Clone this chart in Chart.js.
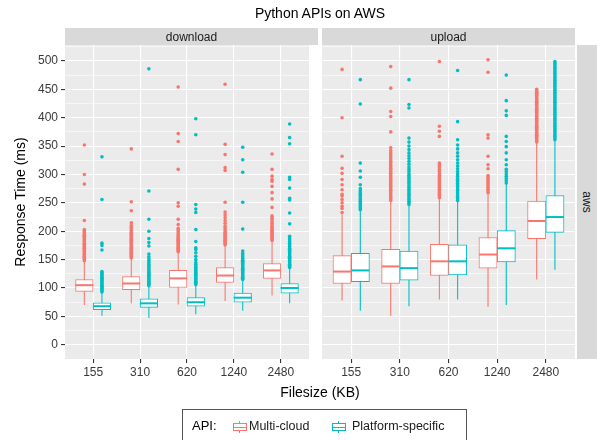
<!DOCTYPE html>
<html><head><meta charset="utf-8">
<script src="https://cdn.jsdelivr.net/npm/chart.js@4.4.0/dist/chart.umd.min.js"></script>
<style>
html,body{margin:0;padding:0;background:#fff;}
body{width:597px;height:440px;position:relative;overflow:hidden;font-family:"Liberation Sans",Arial,Helvetica,sans-serif;}
canvas{position:absolute;}
.abs{position:absolute;}
.strip{position:absolute;background:#D9D9D9;color:#1A1A1A;font-size:12px;display:flex;align-items:center;justify-content:center;}
.key{position:absolute;width:14px;height:12px;}
.key .w{position:absolute;left:6px;top:0;width:1px;height:12px;}
.key .b{position:absolute;left:0;top:2px;width:14px;height:8px;box-sizing:border-box;background:#fff;border:1px solid;}
.key .m{position:absolute;left:0;top:5.5px;width:14px;height:1px;}
</style></head><body>
<canvas id="c1" width="320" height="390" style="left:0;top:0"></canvas>
<canvas id="c2" width="307" height="390" style="left:290px;top:0"></canvas>
<div class="abs" style="left:170px;top:5px;width:300px;text-align:center;font-size:14px;color:#000;">Python APIs on AWS</div>
<div class="strip" style="left:65px;top:28px;width:253px;height:17px;">download</div>
<div class="strip" style="left:322px;top:28px;width:253px;height:17px;">upload</div>
<div class="strip" style="left:577px;top:45px;width:20px;height:314px;"><span style="display:inline-block;transform:rotate(90deg);">aws</span></div>
<div class="abs" style="left:220px;top:384px;width:200px;text-align:center;font-size:14px;color:#000;">Filesize (KB)</div>
<div class="abs" style="left:182px;top:409px;width:285px;height:40px;border:1px solid #555;box-sizing:border-box;background:#fff;">
  <div class="abs" style="left:9px;top:8px;font-size:13px;color:#000;">API:</div>
  <div class="key" style="left:50px;top:11px;"><div class="w" style="background:#F8766D"></div><div class="b" style="border-color:#F8766D"></div><div class="m" style="background:#F8766D"></div></div>
  <div class="abs" style="left:66px;top:9px;font-size:12.5px;color:#1A1A1A;">Multi-cloud</div>
  <div class="key" style="left:149px;top:11px;"><div class="w" style="background:#00BFC4"></div><div class="b" style="border-color:#00BFC4"></div><div class="m" style="background:#00BFC4"></div></div>
  <div class="abs" style="left:169px;top:9px;font-size:12.5px;color:#1A1A1A;">Platform-specific</div>
</div>
<script>
const FONT = '"Liberation Sans", Arial, Helvetica, sans-serif';
const categories = ['155', '310', '620', '1240', '2480'];
const seriesNames = ['Multi-cloud', 'Platform-specific'];
const seriesColors = ['#F8766D', '#00BFC4'];
const yTickLabels = [0, 50, 100, 150, 200, 250, 300, 350, 400, 450, 500];
const yMinorGrid = [25, 75, 125, 175, 225, 275, 325, 375, 425, 475, 525];

// each row: [lower whisker, Q1, median, Q3, upper whisker]
const downloadMultiCloud = [
  [70, 94, 105, 115, 147],
  [73, 97, 108, 120, 152],
  [71, 101, 117, 131, 163],
  [77, 110, 122, 136, 175],
  [87, 117, 131, 143, 183]
];
const downloadPlatform = [
  [51, 62, 68, 74, 92],
  [47, 66, 73, 81, 103],
  [54, 68, 75, 83, 104],
  [60, 75, 83, 91, 114],
  [73, 91, 100, 108, 134]
];
const uploadMultiCloud = [
  [78, 108, 129, 157, 230],
  [51, 108, 138, 168, 253],
  [80, 122, 147, 177, 258],
  [67, 135, 159, 189, 268],
  [115, 187, 218, 253, 356]
];
const uploadPlatform = [
  [60, 111, 131, 161, 236],
  [68, 114, 135, 165, 245],
  [80, 123, 147, 176, 253],
  [70, 146, 170, 201, 284],
  [132, 198, 225, 263, 360]
];

const downloadMultiCloudOutliers = [
  [148,150,152,154,155,157,159,160,162,164,166,168,170,171,173,175,177,179,181,183,185,187,189,191,193,195,197,199,201,203,219,283,300,352],
  [153,155,157,159,161,163,164,166,168,170,172,174,176,178,180,182,184,186,188,190,192,194,196,198,201,204,207,210,215,236,252,345],
  [164,166,168,170,172,174,176,178,180,182,184,186,188,190,193,196,199,202,205,212,221,244,250,309,358,372,454],
  [176,178,180,182,184,186,188,190,192,194,196,198,201,205,209,214,219,224,229,234,251,307,312,335,353,459],
  [184,186,188,190,192,194,196,198,200,202,204,206,208,211,214,217,221,224,227,242,257,268,279,288,291,297,309,336]
];
const downloadPlatformOutliers = [
  [93,95,97,99,101,103,105,107,109,111,113,115,117,119,121,123,125,127,129,167,175,179,256,331],
  [104,106,108,110,112,114,116,118,120,122,124,126,128,130,133,136,139,142,145,148,151,155,160,174,180,187,200,221,271,486],
  [106,108,110,112,114,116,118,120,122,124,126,128,130,132,134,136,139,142,145,150,156,162,168,171,182,203,233,239,247,370,398],
  [115,117,119,121,123,125,127,129,131,133,135,137,139,141,143,145,147,149,152,155,158,161,165,204,251,304,326,348],
  [136,138,140,142,144,146,148,150,152,154,156,158,160,162,164,166,168,170,173,176,179,182,185,188,191,213,232,255,258,276,291,295,354,365,389]
];
const uploadMultiCloudOutliers = [
  [233,240,244,250,256,262,265,273,282,291,302,311,332,400,485],
  [254,257,260,263,266,269,272,275,278,281,284,287,290,293,296,299,302,305,308,311,314,317,320,323,326,330,334,338,342,347,375,402,411,452,490],
  [259,262,265,268,271,274,277,280,283,286,289,292,295,298,301,305,309,313,317,320,367,376,385,499],
  [268,271,274,277,280,283,286,289,292,295,298,310,317,332,364,370,480,502],
  [357,359,361,363,365,367,369,371,373,375,377,379,381,383,385,387,389,391,393,395,397,399,401,403,405,407,409,411,413,415,417,419,421,423,425,427,429,431,433,435,437,439,441,443,445,447,450]
];
const uploadPlatformOutliers = [
  [238,241,244,247,250,253,256,259,262,265,268,271,275,282,295,306,320,424,467],
  [247,250,253,256,259,262,265,268,271,274,277,280,283,286,289,292,295,298,301,305,309,313,318,323,328,333,338,344,350,357,364,417,423,467],
  [254,257,260,263,266,269,272,275,278,281,284,287,290,293,297,301,305,310,315,320,326,332,338,345,352,361,393,483],
  [285,289,293,297,301,305,309,317,326,338,349,358,367,404,412,430,475],
  [361,364,367,370,373,376,379,382,385,388,391,394,397,400,403,406,409,412,415,418,421,424,427,430,433,436,439,442,445,448,451,454,457,460,463,466,469,472,475,478,481,484,487,490,493,496,499]
];

const DODGE = 0.1875;
function boxDatasets(stats, outliers, s) {
  const off = s === 0 ? -DODGE : DODGE;
  const color = seriesColors[s];
  const xs = categories.map((c, i) => i + off);
  return [
    { type: 'bar', label: seriesNames[s] + ' whiskers', data: stats.map((r, i) => ({ x: xs[i], y: [r[0], r[4]] })),
      backgroundColor: color, borderWidth: 0, grouped: false, barPercentage: 0.06, categoryPercentage: 1, order: 4 },
    { type: 'bar', label: seriesNames[s], data: stats.map((r, i) => ({ x: xs[i], y: [r[1], r[3]] })),
      backgroundColor: '#FFFFFF', borderColor: color, borderWidth: 1, borderSkipped: false, grouped: false,
      barPercentage: 1, categoryPercentage: 1, order: 3 },
    { type: 'line', label: seriesNames[s] + ' median', data: stats.map((r, i) => ({ x: xs[i], y: r[2] })),
      showLine: false, pointStyle: 'line', pointRadius: 9, pointBorderWidth: 2, pointBorderColor: color, borderColor: color, order: 2 },
    { type: 'line', label: seriesNames[s] + ' outliers', data: outliers.flatMap((arr, i) => arr.map(v => ({ x: xs[i], y: v }))),
      showLine: false, pointStyle: 'circle', pointRadius: 1.8, pointBackgroundColor: color, pointBorderWidth: 0, borderColor: color, order: 1 }
  ];
}

const panelBg = {
  id: 'panelBg',
  beforeDraw(chart) {
    const { ctx, chartArea: a } = chart;
    ctx.save();
    ctx.fillStyle = '#EBEBEB';
    ctx.fillRect(a.left, a.top, a.right - a.left, a.bottom - a.top);
    ctx.restore();
  }
};

const isMajor = c => c.tick && yTickLabels.includes(c.tick.value);

function makeOptions(first) {
  return {
    responsive: false, animation: false, devicePixelRatio: 1, events: [],
    layout: { padding: first ? { left: 0, right: 2, top: 45, bottom: 11 } : { left: 32, right: 22, top: 45, bottom: 11 } },
    plugins: { legend: { display: false }, tooltip: { enabled: false } },
    scales: {
      x: {
        type: 'linear', min: -0.6, max: 4.6, offset: false,
        afterBuildTicks: sc => { sc.ticks = categories.map((c, i) => ({ value: i })); },
        afterFit: sc => { sc.height = 20; },
        ticks: { callback: v => categories[v] ?? '', color: '#3A3A3A', font: { size: 12, family: FONT }, padding: 2, maxRotation: 0, autoSkip: false },
        grid: { color: '#FFFFFF', lineWidth: 1.1, tickLength: 4, tickColor: '#333333', offset: false },
        border: { display: false }
      },
      y: {
        type: 'linear', min: -25, max: 528,
        afterBuildTicks: sc => { sc.ticks = yTickLabels.concat(yMinorGrid).sort((a, b) => a - b).map(v => ({ value: v })); },
        afterFit: sc => { sc.width = first ? 65 : 0; },
        ticks: { display: first, callback: v => yTickLabels.includes(v) ? String(v) : '', color: '#3A3A3A', font: { size: 12, family: FONT }, padding: 3, autoSkip: false },
        grid: { color: '#FFFFFF', lineWidth: c => isMajor(c) ? 1.1 : 0.55, drawTicks: first, tickLength: first ? 4 : 0,
                tickColor: c => isMajor(c) ? '#333333' : 'rgba(0,0,0,0)' },
        border: { display: false },
        title: { display: first, text: 'Response Time (ms)', color: '#000000', font: { size: 14, family: FONT }, padding: { top: 13, bottom: 0 } }
      }
    }
  };
}

new Chart(document.getElementById('c1'), {
  type: 'bar',
  data: { datasets: [...boxDatasets(downloadMultiCloud, downloadMultiCloudOutliers, 0), ...boxDatasets(downloadPlatform, downloadPlatformOutliers, 1)] },
  options: makeOptions(true),
  plugins: [panelBg]
});
new Chart(document.getElementById('c2'), {
  type: 'bar',
  data: { datasets: [...boxDatasets(uploadMultiCloud, uploadMultiCloudOutliers, 0), ...boxDatasets(uploadPlatform, uploadPlatformOutliers, 1)] },
  options: makeOptions(false),
  plugins: [panelBg]
});
</script>
</body></html>
